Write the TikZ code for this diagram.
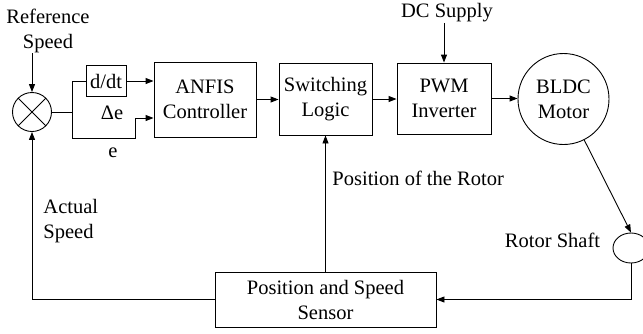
\documentclass[tikz,border=0pt]{standalone}
\usepackage{fontspec}
\setmainfont{Liberation Serif}
\usetikzlibrary{arrows.meta,shapes.geometric}
\begin{document}
\begin{tikzpicture}[x=1pt,y=-1pt, line width=0.9pt,
  blk/.style={draw, rectangle, inner sep=0pt, align=center},
  lbl/.style={inner sep=0pt, align=center},
  arr/.style={-{Triangle[length=8pt,width=6pt]}},
  every node/.style={font=\fontsize{20.5}{25}\selectfont}]
\useasboundingbox (0,0) rectangle (643,333);
% blocks
\node[draw,circle,minimum size=39pt,inner sep=0pt] (sum) at (32,112) {};
\draw (sum.north west) -- (sum.south east);
\draw (sum.north east) -- (sum.south west);
\node[lbl] (ref) at (48,31) {Reference\\Speed};
\node[blk, minimum width=40pt, minimum height=31pt] (ddt) at (106,81) {d/dt};
\node[blk, minimum width=102pt, minimum height=75pt] (anfis) at (205,99.5) {ANFIS\\Controller};
\node[blk, minimum width=93pt, minimum height=72pt] (sw) at (325.5,99) {Switching\\Logic};
\node[blk, minimum width=94pt, minimum height=71pt] (pwm) at (444,98.5) {PWM\\Inverter};
\node[draw,circle,minimum size=91pt,inner sep=0pt,align=center] (bldc) at (563.5,99) {BLDC\\Motor};
\node[draw,ellipse,minimum width=36pt,minimum height=30pt,inner sep=0pt] (shaft) at (631,248) {};
\node[blk, minimum width=221pt, minimum height=55pt] (sens) at (325.5,299.5) {Position and Speed\\Sensor};
% labels
\node[lbl] (dc) at (447,13) {DC Supply};
\node[lbl] (de) at (112,113) {Δe};
\node[lbl] (e) at (113,153) {e};
\node[lbl, anchor=west] (por) at (332,178) {Position of the Rotor};
\node[lbl] (rs) at (552.5,240) {Rotor Shaft};
\node[lbl, anchor=west, align=left] (as) at (43,221) {Actual\\Speed};
% connectors
\coordinate (br) at (72,112);
\coordinate (e1) at (135,138);
\draw[arr] (sum.north |- ref.south) -- (sum.north);
\draw (sum.east) -- (br);
\draw (br) |- (ddt.west);
\draw[arr] (ddt.east) -- (anfis.west |- ddt.east);
\draw[arr] (br) |- (e1) |- ([yshift=-18.5pt]anfis.west);
\draw[arr] (anfis.east) -- (sw.west |- anfis.east);
\draw[arr] (sw.east) -- (pwm.west |- sw.east);
\draw[arr] (pwm.east) -- (bldc.west |- pwm.east);
\draw[arr] (pwm.north |- dc.south) -- (pwm.north);
\draw[arr] (bldc) -- (shaft.north);
\draw[arr] (shaft.south) |- (sens.east);
\draw[arr] (sens.north) -- (sw.south);
\draw[arr] (sens.west) -| (sum.south);
\end{tikzpicture}
\end{document}
